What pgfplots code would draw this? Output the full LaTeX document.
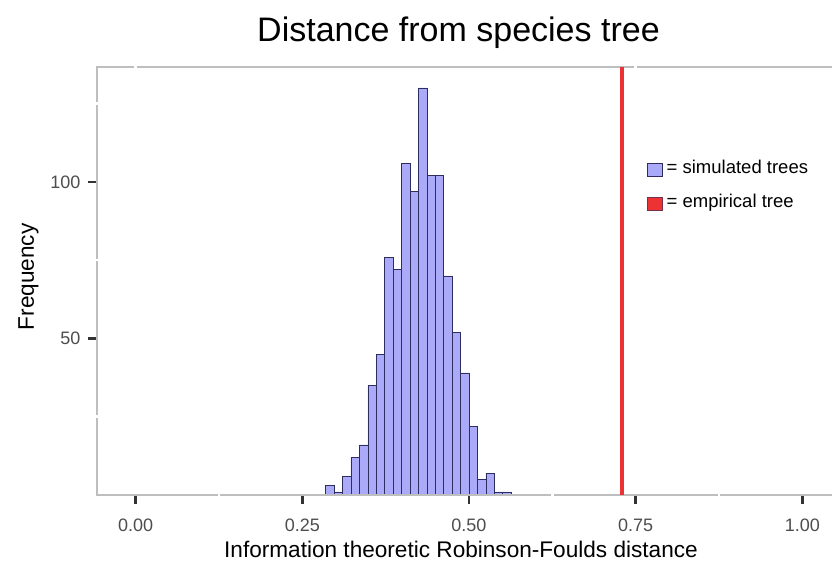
\documentclass[border=0pt]{standalone}
\usepackage{fontspec}
\setmainfont{Liberation Sans}
\usepackage{pgfplots}
\pgfplotsset{compat=1.18}
\definecolor{barfill}{RGB}{170,170,248}
\definecolor{baredge}{RGB}{45,45,95}
\definecolor{empred}{RGB}{236,50,50}
\definecolor{bordercol}{RGB}{190,190,190}
\definecolor{ticklab}{RGB}{77,77,77}
\definecolor{tickcol}{RGB}{51,51,51}

\pgfplotstableread{
x y
0.291325 3
0.303975 1
0.316625 6
0.329275 12
0.341925 16
0.354575 35
0.367225 45
0.379875 76
0.392525 72
0.405175 106
0.417825 97
0.430475 130
0.443125 102
0.455775 102
0.468425 70
0.481075 52
0.493725 39
0.506375 22
0.519025 5
0.531675 7
0.544325 1
0.556975 1
}\simtrees

\begin{document}
\begin{tikzpicture}
\begin{axis}[
  scale only axis, width=734.7pt, height=427.7pt,
  xmin=-0.0576, xmax=1.0446, ymin=0, ymax=136.6,
  axis line style={draw=none},
  clip=false,
  xtick={0,0.25,0.5,0.75,1}, ytick={50,100},
  xtick pos=bottom, ytick pos=left,
  xticklabel style={/pgf/number format/fixed, /pgf/number format/fixed zerofill, /pgf/number format/precision=2, yshift=-10.5pt},
  /pgf/number format/assume math mode=true,
  tick align=outside, major tick length=9.4pt,
  tick style={line width=2.6pt, color=tickcol},
  ticklabel style={font=\fontsize{18}{18}\selectfont, text=ticklab},
  yticklabel style={xshift=-4pt},
  legend style={at={(axis description cs:0.7482,0.7816)}, anchor=north west,
    draw=none, fill=none, inner sep=0pt, row sep=17pt,
    font=\fontsize{18.5}{18.5}\selectfont,
    nodes={inner xsep=4pt, inner ysep=0pt, text height=13pt, text depth=4pt}},
  legend cell align=left,
  legend image code/.code={\draw[#1] (0pt,-6.5pt) rectangle (15pt,6.5pt);},
]
\addplot[ybar, bar width=0.01265, bar shift=0pt, fill=barfill, draw=baredge, line width=0.5pt, forget plot] table[x=x, y=y] {\simtrees};
\draw[bordercol, line width=2pt] (rel axis cs:1,1) -- (rel axis cs:0,1) -- (rel axis cs:0,0) -- (rel axis cs:1,0);
\pgfplotsinvokeforeach{0,0.75}{
  \draw[white, line width=2.5pt] ([yshift=-2pt]axis cs:#1,136.6) -- ([yshift=2pt]axis cs:#1,136.6);
}
\pgfplotsinvokeforeach{0.125,0.625,0.875}{
  \draw[white, line width=2.5pt] ([yshift=-2pt]axis cs:#1,0) -- ([yshift=2pt]axis cs:#1,0);
}
\pgfplotsinvokeforeach{25,75,125}{
  \draw[white, line width=2.5pt] ([xshift=-2pt]axis cs:-0.0576,#1) -- ([xshift=2pt]axis cs:-0.0576,#1);
}
\addplot[empred, line width=4pt, forget plot] coordinates {(0.729,0) (0.729,136.6)};
\addlegendimage{fill=barfill, draw=baredge, line width=0.5pt}
\addlegendentry{= simulated trees}
\addlegendimage{fill=empred, draw=baredge!60!empred, line width=0.5pt}
\addlegendentry{= empirical tree}
\node[anchor=base, font=\fontsize{34}{34}\selectfont] at ([yshift=25.3pt]rel axis cs:0.4916,1) {Distance from species tree};
\node[anchor=base, font=\fontsize{22.6}{22.6}\selectfont] at ([yshift=-62pt]rel axis cs:0.495,0) {Information theoretic Robinson-Foulds distance};
\node[anchor=base, rotate=90, font=\fontsize{22.6}{22.6}\selectfont] at ([xshift=-63.3pt]rel axis cs:0,0.51) {Frequency};
\coordinate (bl) at (rel axis cs:0,0);
\coordinate (tr) at (rel axis cs:1,1);
\end{axis}
\pgfresetboundingbox
\path ([shift={(-97.3pt,-69pt)}]bl) rectangle ([yshift=67.3pt]tr);
\end{tikzpicture}
\end{document}
